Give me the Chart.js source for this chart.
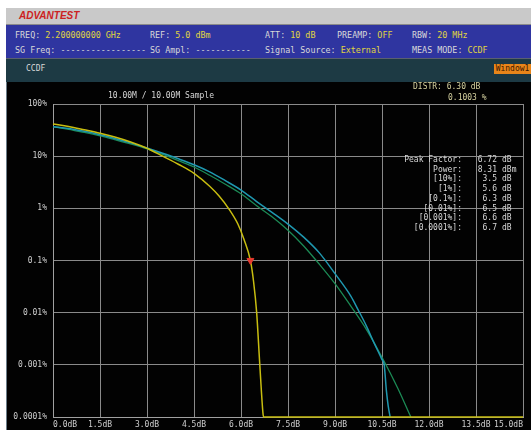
<!DOCTYPE html>
<html>
<head>
<meta charset="utf-8">
<script src="https://cdn.jsdelivr.net/npm/chart.js@4/dist/chart.umd.min.js"></script>
<style>
  html, body { margin: 0; padding: 0; background: #ffffff; }
  #screen { position: relative; width: 531px; height: 430px; overflow: hidden; background: #ffffff; }
  .bar { position: absolute; left: 6px; right: 0; }
  #brand { top: 8px; height: 16px; background: #c9c9c9; border-bottom: 1px solid #8a8a8a; }
  #brand span { position: absolute; left: 13px; top: 2px; font: italic bold 10px "Liberation Sans", Arial, sans-serif; color: #cc2222; letter-spacing: 0px; }
  #info { top: 25px; height: 33px; background: #2f35a0; border-bottom: 1px solid #5a6070; }
  #mode { top: 59px; height: 23px; background: #1d3a44; }
  #plotbg { position: absolute; left: 6px; right: 0; top: 82px; bottom: 0; background: #020202; border-left: 1px solid #6a7c88; }
  .t { position: absolute; font: 8px "DejaVu Sans Mono", monospace; color: #d8d8d8; white-space: pre; line-height: 10px; }
  .h { font-size: 8.4px; }
  .v { color: #e0d640; }
  #win { position: absolute; left: 494px; top: 64px; width: 37px; height: 10px; background: #e8851a; color: #3a1800; font: 8px "DejaVu Sans Mono", monospace; line-height: 10px; text-align: center; }
  canvas { position: absolute; left: 0; top: 0; }
  .r { text-align: right; }
  .distr { color: #d6d2a0; }
</style>
</head>
<body>
<div id="screen">
  <div id="brand" class="bar"><span>ADVANTEST</span></div>
  <div id="info" class="bar"></div>
  <div id="mode" class="bar"></div>
  <div id="plotbg"></div>

  <div class="t h" style="left:15px;top:30px;">FREQ: <span class="v">2.200000000 GHz</span></div>
  <div class="t h" style="left:150px;top:30px;">REF: <span class="v">5.0 dBm</span></div>
  <div class="t h" style="left:265px;top:30px;">ATT: <span class="v">10 dB</span></div>
  <div class="t h" style="left:337px;top:30px;">PREAMP: <span class="v">OFF</span></div>
  <div class="t h" style="left:412px;top:30px;">RBW: <span class="v">20 MHz</span></div>
  <div class="t h" style="left:15px;top:45px;">SG Freq: -----------------</div>
  <div class="t h" style="left:150px;top:45px;">SG Ampl: -----------</div>
  <div class="t h" style="left:265px;top:45px;">Signal Source: <span class="v">External</span></div>
  <div class="t h" style="left:412px;top:45px;">MEAS MODE: <span class="v">CCDF</span></div>
  <div class="t" style="left:26px;top:64px;">CCDF</div>
  <div id="win">Window1</div>

  <canvas id="c" width="531" height="430"></canvas>

  <div class="t" style="left:108px;top:91px;">10.00M / 10.00M Sample</div>
  <div class="t distr" style="left:413px;top:82px;">DISTR: 6.30 dB</div>
  <div class="t distr" style="left:448px;top:93px;">0.1003 %</div>
  <div id="stats"></div>
</div>

<script>
// CCDF traces: x = power above average (dB), y = probability (%)
const dbYellow  = [0.0, 0.5, 1.0, 1.5, 2.0, 2.5, 3.0, 3.5, 4.0, 4.5, 5.0, 5.3, 5.6, 5.9, 6.1, 6.3, 6.4, 6.5, 6.6, 6.7, 6.72, 15.0];
const pctYellow = [41.5, 37, 32, 27.5, 23, 18.5, 14.2, 10.0, 7.0, 4.7, 2.65, 1.72, 1.0, 0.5, 0.25, 0.1003, 0.04, 0.01, 0.001, 0.00012, 0.0001, 0.0001];

const dbCyan  = [0.0, 0.5, 1.0, 1.5, 2.0, 2.5, 3.0, 3.5, 4.0, 4.5, 5.0, 5.5, 6.0, 6.5, 7.0, 7.5, 8.0, 8.5, 9.0, 9.5, 9.75, 10.0, 10.25, 10.5, 10.57, 10.64, 10.7, 10.76];
const pctCyan = [36.7, 33.9, 29.9, 25.7, 21.6, 17.8, 14.3, 11.35, 8.9, 6.84, 5.0, 3.39, 2.24, 1.35, 0.83, 0.5, 0.28, 0.14, 0.056, 0.021, 0.011, 0.0056, 0.0026, 0.00126, 0.001, 0.00032, 0.00016, 0.0001];

const dbGreen  = [0.0, 0.5, 1.0, 1.5, 2.0, 2.5, 3.0, 3.5, 4.0, 4.5, 5.0, 5.5, 6.0, 6.5, 7.0, 7.5, 8.0, 8.5, 9.0, 9.5, 10.0, 10.5, 11.0, 11.42];
const pctGreen = [37, 32.5, 28.5, 24.5, 20.5, 17, 13.8, 10.8, 8.2, 6.2, 4.3, 2.9, 1.9, 1.12, 0.68, 0.38, 0.19, 0.085, 0.036, 0.0135, 0.0048, 0.0014, 0.00036, 0.0001];

// marker position
const markerDb = [6.3];
const markerPct = [0.1003];

// axis ticks
const xTickValues = [0, 1.5, 3, 4.5, 6, 7.5, 9, 10.5, 12, 13.5, 15];
const xTickLabels = ['0.0dB','1.5dB','3.0dB','4.5dB','6.0dB','7.5dB','9.0dB','10.5dB','12.0dB','13.5dB','15.0dB'];
const yTickValues = [0.0001, 0.001, 0.01, 0.1, 1, 10, 100];
const yTickLabels = ['0.0001%','0.001%','0.01%','0.1%','1%','10%','100%'];

// statistics table
const statLabels = ['Peak Factor:','Power:','[10%]:','[1%]:','[0.1%]:','[0.01%]:','[0.001%]:','[0.0001%]:'];
const statValues = ['6.72','8.31','3.5','5.6','6.3','6.5','6.6','6.7'];
const statUnits  = ['dB','dBm','dB','dB','dB','dB','dB','dB'];

const stats = document.getElementById('stats');
statLabels.forEach((lab, i) => {
  const top = 155 + i * 9.7;
  stats.insertAdjacentHTML('beforeend',
    `<div class="t r" style="left:380px;width:82px;top:${top}px;">${lab}</div>` +
    `<div class="t r" style="left:470px;width:27px;top:${top}px;">${statValues[i]}</div>` +
    `<div class="t" style="left:502px;top:${top}px;">${statUnits[i]}</div>`);
});

const pts = (xs, ys) => xs.map((x, i) => ({ x, y: ys[i] }));
const font = { family: 'DejaVu Sans Mono', size: 8 };

new Chart(document.getElementById('c'), {
  type: 'line',
  data: {
    datasets: [
      { data: pts(markerDb, markerPct), showLine: false, pointStyle: 'triangle', rotation: 180,
        pointRadius: 4, backgroundColor: '#e83a30', borderColor: '#e83a30', order: 0 },
      { data: pts(dbYellow, pctYellow), borderColor: '#c8bd10', borderWidth: 1.5, pointRadius: 0,
        cubicInterpolationMode: 'monotone', clip: 3, order: 1 },
      { data: pts(dbCyan, pctCyan), borderColor: '#1f98b0', borderWidth: 1.5, pointRadius: 0,
        cubicInterpolationMode: 'monotone', clip: 3, order: 2 },
      { data: pts(dbGreen, pctGreen), borderColor: '#1c8a55', borderWidth: 1.3, pointRadius: 0,
        cubicInterpolationMode: 'monotone', clip: 3, order: 3 }
    ]
  },
  options: {
    responsive: false,
    animation: false,
    devicePixelRatio: 1,
    layout: { padding: { top: 104, right: 8, bottom: 0, left: 0 } },
    plugins: { legend: { display: false }, tooltip: { enabled: false } },
    scales: {
      x: {
        type: 'linear', min: 0, max: 15,
        afterBuildTicks: s => { s.ticks = xTickValues.map(v => ({ value: v })); },
        afterFit: s => { s.height = 13; s.paddingLeft = 0; s.paddingRight = 0; },
        ticks: { color: '#cfcfcf', font, padding: 3, maxRotation: 0, autoSkip: false, align: 'inner',
                 callback: v => xTickLabels[xTickValues.indexOf(v)] },
        grid: { color: '#8a8a8a', lineWidth: 1, drawTicks: false },
        border: { color: '#a0a0a0' }
      },
      y: {
        type: 'logarithmic', min: 0.0001, max: 100,
        afterBuildTicks: s => { s.ticks = yTickValues.map(v => ({ value: v })); },
        afterFit: s => { s.width = 53; s.paddingTop = 0; s.paddingBottom = 0; },
        ticks: { color: '#cfcfcf', font, padding: 6, autoSkip: false,
                 callback: v => yTickLabels[yTickValues.indexOf(v)] },
        grid: { color: '#8a8a8a', lineWidth: 1, drawTicks: false },
        border: { color: '#a0a0a0' }
      }
    }
  }
});
</script>
</body>
</html>
